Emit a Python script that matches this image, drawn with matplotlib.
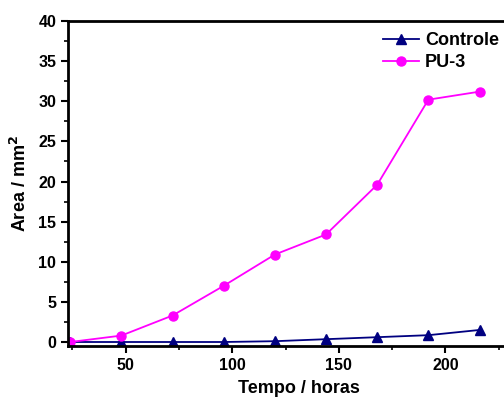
import matplotlib
matplotlib.use("Agg")
import matplotlib.pyplot as plt
from matplotlib.ticker import MultipleLocator

plt.rcParams['font.family'] = ['Liberation Sans', 'DejaVu Sans']
plt.rcParams['font.weight'] = 'bold'

tempo = [24, 48, 72, 96, 120, 144, 168, 192, 216]
controle = [0.0, 0.0, 0.0, 0.0, 0.1, 0.35, 0.6, 0.85, 1.5]
pu3 = [0.0, 0.8, 3.3, 7.0, 10.9, 13.4, 19.6, 30.2, 31.2]

fig = plt.figure(figsize=(5.04, 3.99), dpi=100)
ax = fig.add_axes([0.135, 0.1328, 0.918, 0.8145])

ax.plot(tempo, controle, color='#000080', marker='^', ms=7, lw=1.3, label='Controle')
ax.plot(tempo, pu3, color='#FF00FF', marker='o', ms=6.5, lw=1.3, label='PU-3')

ax.set_xlim(23, 240)
ax.set_ylim(-0.5, 40)
ax.xaxis.set_major_locator(MultipleLocator(50))
ax.xaxis.set_minor_locator(MultipleLocator(25))
ax.yaxis.set_major_locator(MultipleLocator(5))
ax.yaxis.set_minor_locator(MultipleLocator(2.5))
ax.tick_params(which='major', direction='out', length=5, width=1.5, labelsize=11.5)
ax.tick_params(which='minor', direction='out', length=3, width=1.2)
for lbl in ax.get_xticklabels() + ax.get_yticklabels():
    lbl.set_fontweight('bold')
for s in ax.spines.values():
    s.set_linewidth(2)

ax.set_xlabel('Tempo / horas', fontsize=13, fontweight='bold', labelpad=5)
ax.set_ylabel('Area / mm$^\\mathbf{2}$', fontsize=13, fontweight='bold', labelpad=6)

leg = ax.legend(loc='upper right', bbox_to_anchor=(0.99, 0.92), bbox_transform=fig.transFigure,
                frameon=False, prop={'weight': 'bold', 'size': 13}, handlelength=1.95,
                handletextpad=0.35, labelspacing=0.3, borderaxespad=0, borderpad=0)

fig.savefig('out.png', dpi=100)
